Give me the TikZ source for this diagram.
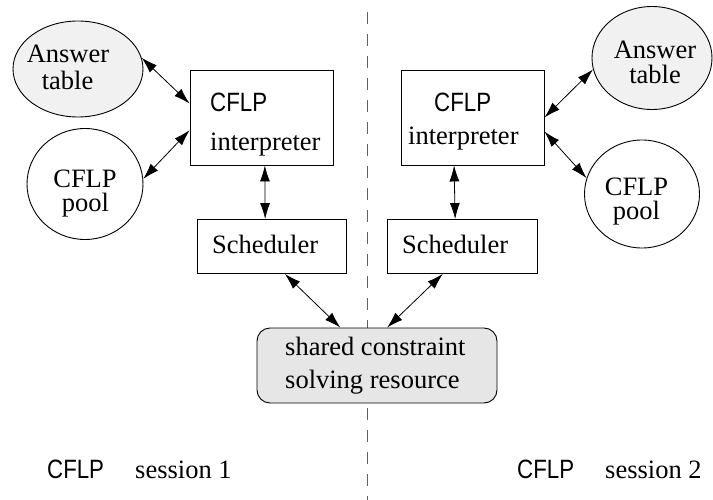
\documentclass[tikz,border=0pt]{standalone}
\usepackage{fontspec}
\setmainfont{Liberation Serif}
\newfontfamily\cflpfont[FakeStretch=0.84]{Liberation Sans}
\usetikzlibrary{arrows.meta,shapes.geometric,calc}
\definecolor{tablefill}{HTML}{F1F1F1}
\definecolor{sharedfill}{HTML}{E6E6E6}
\definecolor{dashgray}{HTML}{606060}
\tikzset{
  shapeline/.style={draw=black, line width=0.9pt},
  tablell/.style={shapeline, ellipse, fill=tablefill, inner sep=0pt},
  poolell/.style={shapeline, ellipse, fill=white, inner sep=0pt},
  procbox/.style={shapeline, rectangle, fill=white, inner sep=0pt},
  sharedbox/.style={shapeline, rectangle, rounded corners=13pt, fill=sharedfill, inner sep=0pt},
  lbl/.style={inner sep=0pt, anchor=base west, font=\fontsize{26.5}{30}\selectfont},
  clbl/.style={inner sep=0pt, anchor=base, font=\fontsize{26.5}{30}\selectfont},
  sanslbl/.style={inner sep=0pt, anchor=base west, font=\fontsize{26.5}{30}\selectfont\cflpfont},
  biarrow/.style={line width=0.8pt, {Latex[length=16pt,width=10pt]}-{Latex[length=16pt,width=10pt]}},
  divider/.style={draw=dashgray, line width=0.9pt, dash pattern=on 12pt off 10pt}
}
\begin{document}
\begin{tikzpicture}[x=1pt,y=-1pt]
\useasboundingbox (0,0) rectangle (713,500);
% divider
\coordinate (dtop) at (367,12);
\coordinate (dbot) at (367,500);
\draw[divider] (dtop) -- (dbot);

% shapes
\node[tablell, minimum width=130pt, minimum height=96pt] (la) at (78,69) {};
\node[poolell, minimum width=116pt, minimum height=111pt] (lp) at (85,184) {};
\node[procbox, minimum width=143pt, minimum height=95pt] (li) at (261.5,117.5) {};
\node[procbox, minimum width=149pt, minimum height=54pt] (ls) at (271.5,246.5) {};
\node[tablell, minimum width=120pt, minimum height=103pt] (ra) at (652,58) {};
\node[poolell, minimum width=115pt, minimum height=108pt] (rp) at (642,194) {};
\node[procbox, minimum width=143pt, minimum height=95pt] (ri) at (472.5,117.5) {};
\node[procbox, minimum width=150pt, minimum height=54pt] (rs) at (462,246.5) {};
\node[sharedbox, minimum width=240pt, minimum height=75pt] (sh) at (377,365.5) {};

% texts
\node[clbl] (laA) at (68,63) {Answer};
\node[clbl] (laB) at (67.5,90) {table};
\node[clbl] (lpA) at (85,188) {CFLP};
\node[clbl] (lpB) at (85.5,212) {pool};
\node[sanslbl] (liA) at (210,112) {CFLP};
\node[lbl] (liB) at (210,151) {interpreter};
\node[lbl] (lsA) at (212,254) {Scheduler};
\node[clbl] (raA) at (655,59) {Answer};
\node[clbl] (raB) at (655,84) {table};
\node[clbl] (rpA) at (636.5,196) {CFLP};
\node[clbl] (rpB) at (636.5,220) {pool};
\node[sanslbl] (riA) at (434,112) {CFLP};
\node[lbl] (riB) at (408,145) {interpreter};
\node[lbl] (rsA) at (402,254) {Scheduler};
\node[lbl] (shA) at (285,355) {shared constraint};
\node[lbl] (shB) at (285,388) {solving resource};
\node[sanslbl] (s1A) at (47,478) {CFLP};
\node[lbl] (s1B) at (135,478) {session 1};
\node[sanslbl] (s2A) at (517,478) {CFLP};
\node[lbl] (s2B) at (605,478) {session 2};

% connectors
\draw[biarrow] (la.10.5) -- (li.169.3);
\draw[biarrow] (lp.5.9) -- (li.190.7);
\draw[biarrow] (li.274.2) -- (ls.103.3);
\draw[biarrow] (ls.296.1) -- (sh.134.6);
\draw[biarrow] (rs.235.4) -- (sh.75.1);
\draw[biarrow] (ri.249.8) -- (rs.104.3);
\draw[biarrow] (ri.0.4) -- (ra.191.3);
\draw[biarrow] (ri.349.3) -- (rp.164.4);
\end{tikzpicture}
\end{document}
